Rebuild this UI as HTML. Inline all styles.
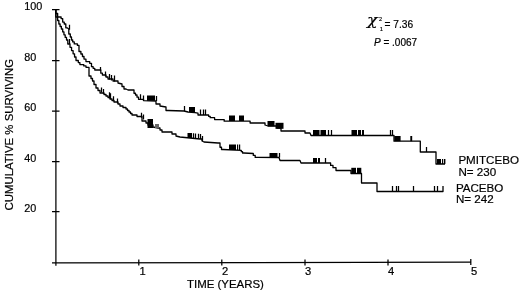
<!DOCTYPE html>
<html><head><meta charset="utf-8"><title>Survival</title>
<style>
html,body{margin:0;padding:0;background:#fff;}
body{width:520px;height:292px;overflow:hidden;}
svg{display:block;}
text{font-family:"Liberation Sans",Arial,Helvetica,sans-serif;fill:#000;stroke:#000;stroke-width:0.2px;}
.sf{font-family:"Liberation Serif","DejaVu Serif",serif;}
</style></head><body>
<svg width="520" height="292" viewBox="0 0 520 292">
<rect width="520" height="292" fill="#fff"/>
<!-- axes -->
<g stroke="#000" stroke-width="1.25" fill="none">
<path d="M55.9,9.5V265.8"/>
<path d="M52,262.9L471,262.2"/>
<path d="M52,9.5h7.5M52,60.5h7.5M52,111.2h7.5M52,161.5h7.5M52,211.7h7.5"/>
<path d="M138.8,259.5v6.1M221.8,259.5v6.1M305,259.5v6.1M388,259.5v6.1M470.8,259v6.1"/>
</g>
<!-- y labels -->
<g font-size="10.8">
<text x="24.3" y="10">100</text>
<text x="24.3" y="60.5">80</text>
<text x="24.3" y="111.3">60</text>
<text x="24.3" y="162">40</text>
<text x="24.3" y="212.3">20</text>
</g>
<g font-size="11.2">
<text x="139.4" y="275.3">1</text>
<text x="221.9" y="275.3">2</text>
<text x="304.9" y="275.3">3</text>
<text x="387.9" y="275.3">4</text>
<text x="470.9" y="275.3">5</text>
</g>
<text x="187" y="287.5" font-size="11.45">TIME (YEARS)</text>
<text transform="translate(12.5,210.4) rotate(-90)" font-size="11.4">CUMULATIVE % SURVIVING</text>
<!-- legend -->
<g font-size="11.6">
<text x="458.4" y="164.2">PMITCEBO</text>
<text x="458.4" y="176.1">N= 230</text>
<text x="455.9" y="191.5">PACEBO</text>
<text x="455.9" y="203">N= 242</text>
</g>
<!-- stats -->
<text transform="translate(367,25.3) scale(1.2,1)" font-size="14.6" font-style="italic" style="font-family:'DejaVu Serif','Liberation Serif',serif" stroke="#000" stroke-width="0.3">χ</text>
<text x="379" y="21" font-size="5.5">2</text>
<text x="380" y="31" font-size="5" fill="#888">1</text>
<text x="384.5" y="28" font-size="10.2">= 7.36</text>
<text x="374" y="46.2" font-size="10"><tspan font-style="italic">P</tspan> = .0067</text>
<!-- curves -->
<polyline points="55.8,10 55.8,13.5 57.65,13.5 57.65,17.0 59.5,17.0 61.1,17.0 61.1,18.6 62.7,18.6 62.7,20.2 62.7,22.1 64.25,22.1 64.25,24.0 65.8,24.0 65.8,27.8 67.1,27.8 68.8,29 68.8,34.0 70.3,34.0 70.3,37.0 71.5,37.0 71.5,40.0 72.7,40.0 72.7,41.95 74.25,41.95 74.25,43.9 75.8,43.9 77.4,43.9 77.4,45.45 79.0,45.45 79.0,47.0 79.0,51.5 80.9,51.5 80.9,54.0 82.45,54.0 82.45,56.5 84.0,56.5 84.0,59.05 85.95,59.05 85.95,61.6 87.9,61.6 89.7,61.6 89.7,63.3 91.5,63.3 91.5,65.0 91.5,66.67 93.13,66.67 93.13,68.33 94.77,68.33 94.77,70.0 96.4,70.0 100.8,70.0 100.8,71.3 100.8,73.15 102.4,73.15 102.4,75.0 104.0,75.0 106.0,75.0 106.0,77.0 108.0,77.0 108.0,79.0 113.0,79.0 113.0,81.0 118.0,81.0 118.0,83.0 122,84 122.0,86.5 124.0,86.5 124.0,89.0 126.0,89.0 128,90 134.0,90.0 134.0,91.5 134.0,93.25 135.5,93.25 135.5,95.0 137.0,95.0 137.0,97.15 138.5,97.15 138.5,99.3 140.0,99.3 143.5,99.3 143.5,100.6 156,101 156.0,104.0 158.0,104.0 160.0,104.0 160.0,106.0 166,107 166.0,110.5 168.0,110.5 184,111 188,112 195,112.6 198,113.2 198.0,115.0 199.4,115.0 207,115 208.6,115.0 208.6,116.35 210.2,116.35 210.2,117.7 214.6,117.7 214.6,119.6 215.9,119.6 224.2,119.6 224.2,121.2 225.4,121.2 250.1,121.2 250.1,123.0 251.4,123.0 262,123 265.0,123.0 265.0,125.0 268,126 275,126 277.0,126.0 277.0,128.0 281,128 281.0,131.0 283.0,131.0 303,131 305.0,131.0 305.0,133.0 310,133 311,135.5 394,135.5 394,141.2 420.3,141.2 420.3,152 436,152 436,164 445,164" fill="none" stroke="#000" stroke-width="1.3" stroke-linejoin="round"/>
<polyline points="55.8,10 55.8,17.0 57.6,17.0 57.6,20.5 58.85,20.5 58.85,24.0 60.1,24.0 60.1,26.5 61.4,26.5 61.4,29.0 62.7,29.0 62.7,31.9 63.95,31.9 63.95,34.8 65.2,34.8 65.2,37.4 66.5,37.4 66.5,40.0 67.8,40.0 67.8,44.0 70.0,44.0 70.0,47.3 71.55,47.3 71.55,50.6 73.1,50.6 73.1,53.8 74.55,53.8 74.55,57.0 76.0,57.0 76.0,60.5 78.3,60.5 78.3,62.55 79.9,62.55 79.9,64.6 81.5,64.6 83.75,64.6 83.75,65.95 86.0,65.95 86.0,67.3 89.0,67.3 89.0,69.3 89.0,76.0 91.0,76.0 91.0,78.5 92.5,78.5 92.5,81.0 94.0,81.0 94.0,84.5 96.0,84.5 96.0,88.0 98.0,88.0 98.0,90.5 100.0,90.5 100.0,93.0 102.0,93.0 104.0,93.0 104.0,94.5 106.0,94.5 106.0,96.0 108.0,96.0 108.0,97.5 110.0,97.5 110.0,99.0 112.0,99.0 112.0,100.5 114.0,100.5 114.0,102.0 118.0,102.0 118.0,104.0 120.0,104.0 120.0,106.0 123.0,106.0 123.0,107.5 126.0,107.5 126.0,109.0 127.5,109.0 127.5,110.5 129.0,110.5 129.0,112.0 130.5,112.0 130.5,113.5 132.0,113.5 132.0,115.0 137.0,115.0 137.0,116.5 142.0,116.5 142.0,118.0 142.0,121.0 144.0,121.0 146.0,121.0 146.0,123.0 148.0,123.0 148.0,125.0 153.0,125.0 153.0,127.0 158,128 160.0,128.0 160.0,130.0 162.0,130.0 162.0,132.0 172.0,132.0 172.0,134.0 176.0,134.0 176.0,136.0 180,137 190,138 200,139 202.0,139.0 202.0,141.0 204,142 218,143 220.0,143.0 220.0,145.0 220.0,147.25 221.5,147.25 221.5,149.5 223.0,149.5 241.3,150.3 241.3,151.65 242.55,151.65 242.55,153.0 243.8,153.0 253.3,153.5 253.3,155.45 255.2,155.45 255.2,157.4 257.1,157.4 279,157.5 280,160.5 300,160.5 301,163 330.6,163 330.6,165.4 333,165.4 333,167.7 336,167.7 336,170.5 351,170.5 351,173.5 361.5,173.5 361.5,183 377,183 377,191.5 443,191.5 443,186" fill="none" stroke="#000" stroke-width="1.3" stroke-linejoin="round"/>
<path d="M69.5,29.7v-5M100.5,71.1v-4M105.5,76.5v-5M109.5,79.4v-5.5M111.5,80.4v-5.5M114.5,81.4v-6M140.5,99.3v-5M143.5,100.4v-5M156.5,101.0v-5M184.5,111.0v-5M200.5,115.0v-5.5M203.5,115.0v-5.5M205.5,115.0v-5.5M328.5,135.5v-5.5M331.5,135.5v-5.5M390.5,135.5v-5.5M392.5,135.5v-5.5M426.5,152.0v-5M69.5,44.0v-5M101.5,92.4v-5M103.5,94.1v-5M109.5,98.2v-6M110.5,99.2v-6M113.5,101.2v-5M117.5,103.5v-5M141.5,117.8v-5M143.5,119.5v-5M193.5,138.3v-5M195.5,138.5v-5M198.5,138.8v-5M200.5,139.0v-5M202.5,141.0v-5M279.5,157.5v-4.5M325.5,163.0v-5M392.5,191.5v-5.5M396.5,191.5v-5.5M398.5,191.5v-5.5M413.5,191.5v-5.5M434.5,191.5v-5.5M437.5,191.5v-5.5" fill="none" stroke="#000" stroke-width="1.25"/>
<g fill="#000"><rect x="147" y="95.5" width="8.0" height="5.3"/><rect x="189" y="107" width="6.0" height="5.0"/><rect x="229" y="115.5" width="6.0" height="5.5"/><rect x="239" y="115.5" width="5.0" height="5.5"/><rect x="267.5" y="121" width="7.0" height="5.3"/><rect x="275.5" y="122.8" width="8.0" height="6.0"/><rect x="313" y="130" width="6.5" height="5.5"/><rect x="320.5" y="130" width="5.5" height="5.5"/><rect x="351.5" y="130" width="5.5" height="5.5"/><rect x="358" y="130" width="3.0" height="5.5"/><rect x="362" y="130" width="2.0" height="5.5"/><rect x="394.3" y="136" width="6.3" height="5.2"/><rect x="410.3" y="136" width="1.9" height="5.2"/><rect x="437" y="159" width="4.0" height="5.0"/><rect x="442" y="159" width="1.2" height="5.0"/><rect x="444" y="159" width="1.4" height="5.0"/><rect x="147.5" y="119" width="5.5" height="9.0"/><rect x="187.5" y="133" width="4.5" height="5.0"/><rect x="229" y="144.5" width="7.0" height="5.5"/><rect x="237" y="144.5" width="1.2" height="5.5"/><rect x="239" y="144.5" width="1.2" height="5.5"/><rect x="269.5" y="153" width="8.0" height="4.8"/><rect x="313" y="158" width="4.0" height="5.0"/><rect x="318" y="158" width="2.0" height="5.0"/><rect x="351.3" y="167.8" width="4.7" height="6.2"/><rect x="357" y="167.8" width="4.3" height="6.2"/></g>
<rect x="155" y="124" width="4" height="4" fill="#666"/>
</svg>
</body></html>
